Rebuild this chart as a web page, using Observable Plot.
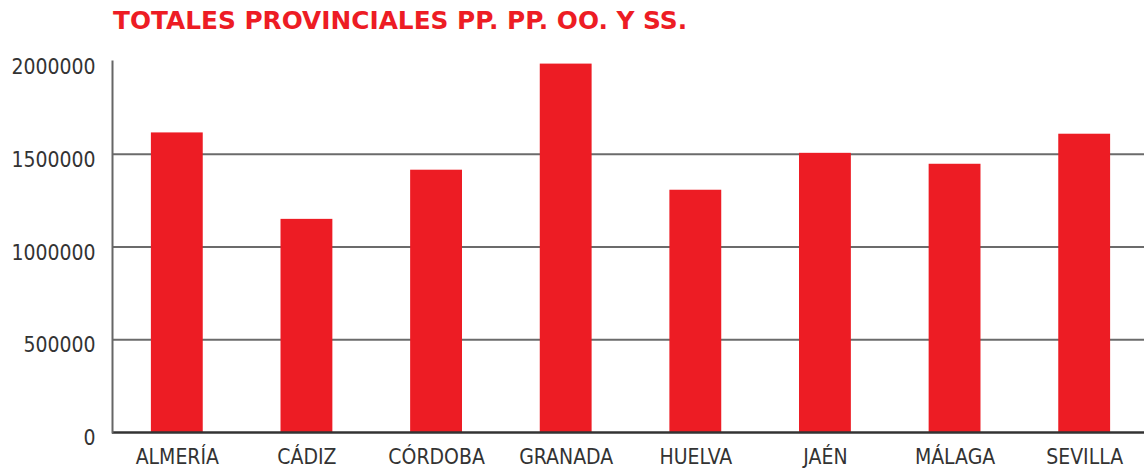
<!DOCTYPE html>
<html>
<head>
<meta charset="utf-8">
<script src="https://cdn.jsdelivr.net/npm/d3@7"></script>
<script src="https://cdn.jsdelivr.net/npm/@observablehq/plot@0.6"></script>
<style>
  html, body { margin: 0; padding: 0; background: #fff; }
  #title {
    height: 40px; box-sizing: border-box; padding: 1px 0 0 113px;
    line-height: 39px; font-family: "DejaVu Sans", sans-serif;
    font-weight: bold; font-size: 24.8px; color: #ED1C24;
    white-space: nowrap;
  }
</style>
</head>
<body>
<div id="title">TOTALES PROVINCIALES PP. PP. OO. Y SS.</div>
<div id="chart"></div>
<script>
const provinces = ["ALMERÍA", "CÁDIZ", "CÓRDOBA", "GRANADA", "HUELVA", "JAÉN", "MÁLAGA", "SEVILLA"];
const totals = [1615000, 1149000, 1414000, 1986000, 1306000, 1505000, 1446000, 1608000];
const yTicks = [0, 500000, 1000000, 1500000, 2000000];
const gridValues = [500000, 1000000, 1500000];

const data = provinces.map((p, i) => ({province: p, total: totals[i]}));

const chart = Plot.plot({
  width: 1144,
  height: 428,
  marginLeft: 112,
  marginRight: 0,
  marginTop: 21,
  marginBottom: 36,
  style: {fontFamily: '"DejaVu Sans Condensed", "DejaVu Sans", sans-serif', fontStretch: "condensed", color: "#333", background: "#fff"},
  x: {domain: provinces, range: [112, 1149], paddingInner: 0.6, paddingOuter: 0.3, round: false},
  y: {domain: [0, 2000000]},
  marks: [
    Plot.ruleY(gridValues, {stroke: "#6b6b6b", strokeWidth: 2}),
    Plot.barY(data, {x: "province", y: "total", fill: "#ED1C24"}),
    Plot.ruleY([0], {stroke: "#333", strokeWidth: 2.5}),
    Plot.frame({anchor: "left", stroke: "#666", strokeWidth: 2}),
    Plot.axisY({ticks: yTicks, tickSize: 0, tickPadding: 17, fontSize: 21, dy: 6, tickFormat: d => String(d), label: null}),
    Plot.axisX({tickSize: 0, tickPadding: 17, fontSize: 21, label: null})
  ]
});
document.getElementById("chart").appendChild(chart);
</script>
</body>
</html>
